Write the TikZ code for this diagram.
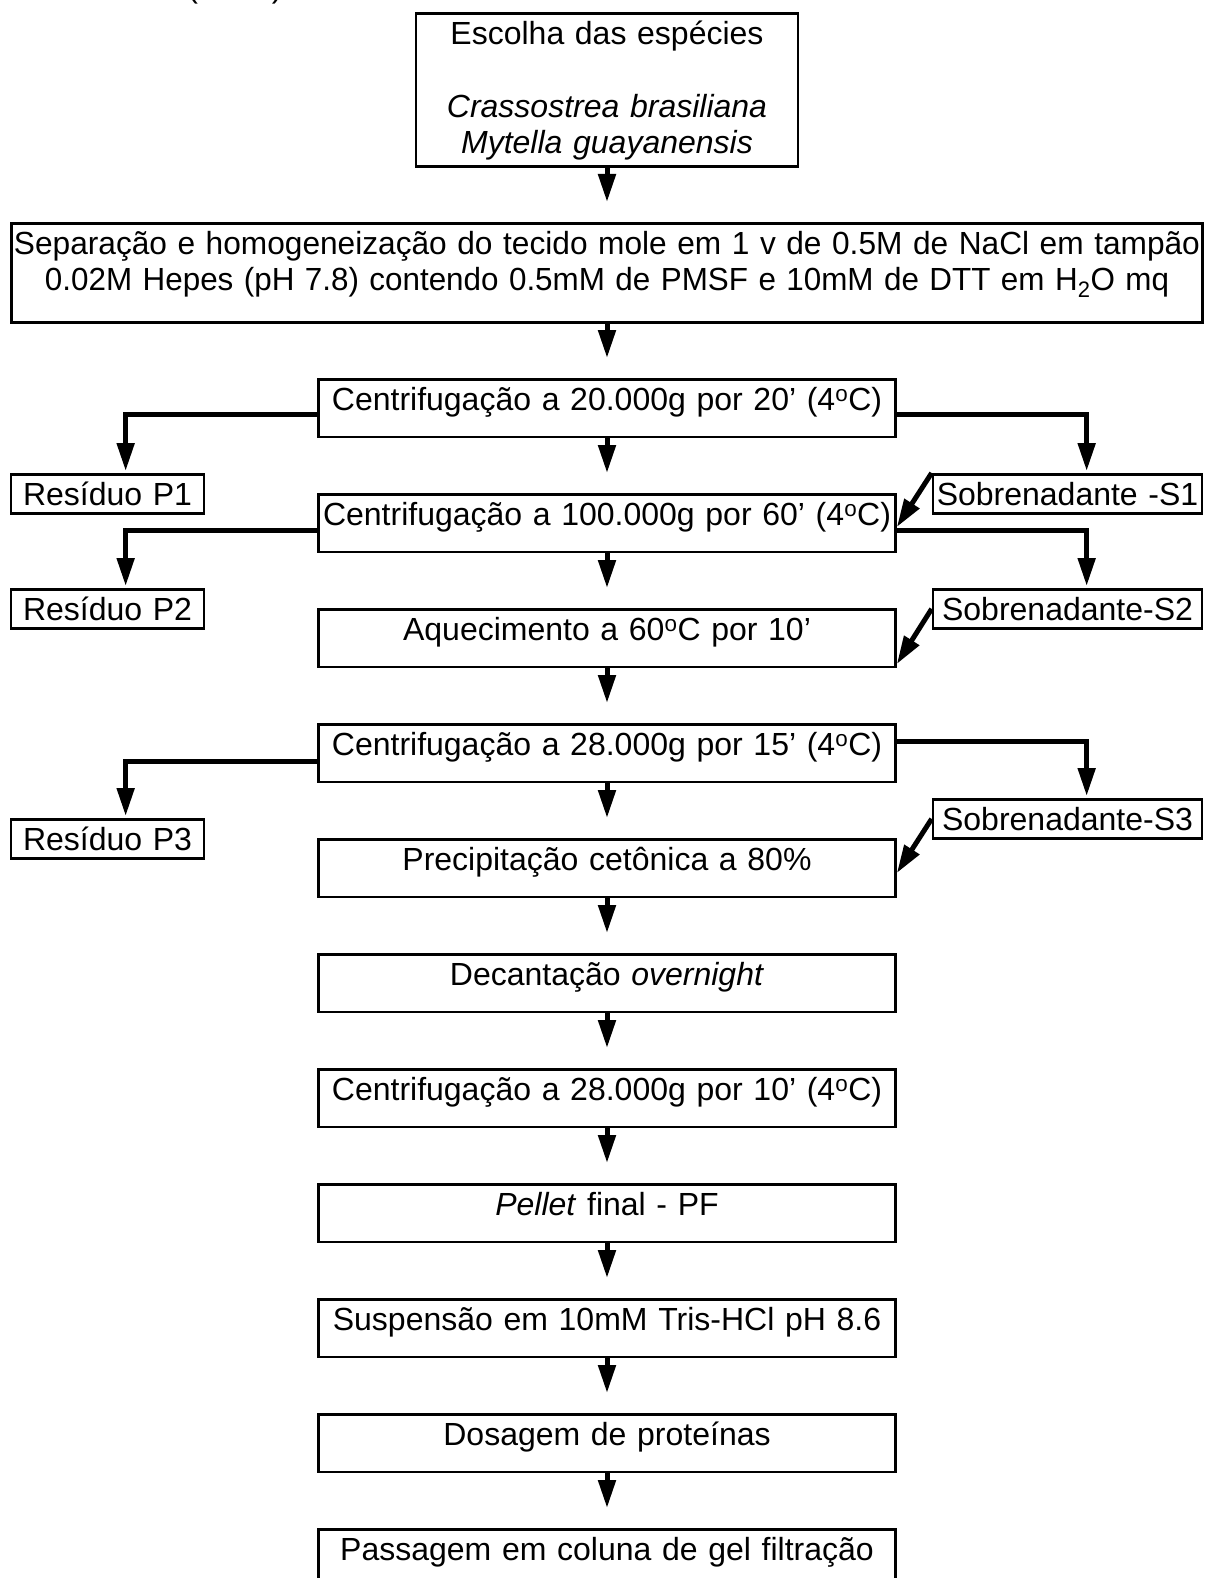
\documentclass[tikz,border=0pt]{standalone}
\usepackage{fontspec}
\usepackage{graphicx}
\setmainfont{Liberation Sans}
\usetikzlibrary{arrows.meta}
\begin{document}
\begin{tikzpicture}[x=1pt,y=-1pt,
  every node/.style={font=\fontsize{32}{36.5}\selectfont},
  box/.style={draw, line width=2.7pt, inner sep=0pt, align=center,
    text height=31pt, anchor=north},
  stage/.style={box, text width=577pt, text depth=26.5pt},
  side/.style={box, text depth=8pt},
  resid/.style={side, text width=193pt},
  super/.style={side, text width=269pt},
  flow/.style={line width=5pt, -{Triangle[length=28pt,width=17pt]}},
]
\useasboundingbox (0,0) rectangle (1212,1578);
\fill[white] (0,0) rectangle (1212,1578);

% heading line running off the top edge
\node[anchor=base, inner sep=0pt] (yr) at (235,-2) {(\hspace{74pt})};

% main column
\node[box, text width=382pt, text depth=122pt] (b1) at (607,12)
  {Escolha das espécies\\[36.5pt]\textit{Crassostrea brasiliana}\\\textit{Mytella guayanensis}};
\node[box, text width=1191pt, text depth=68pt] (b2) at (607,222)
  {\resizebox{1186pt}{\height}{Separação e homogeneização do tecido mole em 1 v de 0.5M de NaCl em tampão}\\
   \resizebox{1124pt}{\height}{0.02M Hepes (pH 7.8) contendo 0.5mM de PMSF e 10mM de DTT em H\textsubscript{2}O mq}};
\node[stage] (b3) at (607,378) {Centrifugação a 20.000g por 20’ (4\textsuperscript{o}C)};
\node[stage] (b4) at (607,493) {Centrifugação a 100.000g por 60’ (4\textsuperscript{o}C)};
\node[stage] (b5) at (607,608) {Aquecimento a 60\textsuperscript{o}C por 10’};
\node[stage] (b6) at (607,723) {Centrifugação a 28.000g por 15’ (4\textsuperscript{o}C)};
\node[stage] (b7) at (607,838) {Precipitação cetônica a 80\%};
\node[stage] (b8) at (607,953) {Decantação \textit{overnight}};
\node[stage] (b9) at (607,1068) {Centrifugação a 28.000g por 10’ (4\textsuperscript{o}C)};
\node[stage] (b10) at (607,1183) {\textit{Pellet} final - PF};
\node[stage] (b11) at (607,1298) {Suspensão em 10mM Tris-HCl pH 8.6};
\node[stage] (b12) at (607,1413) {Dosagem de proteínas};
\node[stage] (b13) at (607,1528) {Passagem em coluna de gel filtração};

% residues and supernatants
\node[resid] (p1) at (107.5,473) {Resíduo P1};
\node[resid] (p2) at (107.5,588) {Resíduo P2};
\node[resid] (p3) at (107.5,818) {Resíduo P3};
\node[super] (s1) at (1067.5,473) {Sobrenadante -S1};
\node[super] (s2) at (1067.5,588) {Sobrenadante-S2};
\node[super] (s3) at (1067.5,798) {Sobrenadante-S3};

% main flow
\foreach \a/\b in {b1/b2,b2/b3,b3/b4,b4/b5,b5/b6,b6/b7,b7/b8,b8/b9,b9/b10,b10/b11,b11/b12,b12/b13}
  \draw[flow] (\a.south) -- ([yshift=20pt]\b.north);

% branches to the sides
\draw[flow] ([yshift=-36pt]b3.north west) -| ([xshift=116pt,yshift=2pt]p1.north west);
\draw[flow] ([yshift=-36pt]b3.north east) -| ([xshift=155pt,yshift=2pt]s1.north west);
\draw[flow] ([yshift=-37pt]b4.north west) -| ([xshift=116pt,yshift=2pt]p2.north west);
\draw[flow] ([yshift=-37pt]b4.north east) -| ([xshift=155pt,yshift=2pt]s2.north west);
\draw[flow] ([yshift=-38pt]b6.north west) -| ([xshift=116pt,yshift=2pt]p3.north west);
\draw[flow] ([yshift=-18pt]b6.north east) -| ([xshift=155pt,yshift=2pt]s3.north west);

% supernatants fed back
\draw[flow] (s1.north west) -- ([yshift=-34pt]b4.north east);
\draw[flow] (s2.west) -- ([yshift=-56pt]b5.north east);
\draw[flow] (s3.west) -- ([yshift=-35pt]b7.north east);
\end{tikzpicture}
\end{document}
